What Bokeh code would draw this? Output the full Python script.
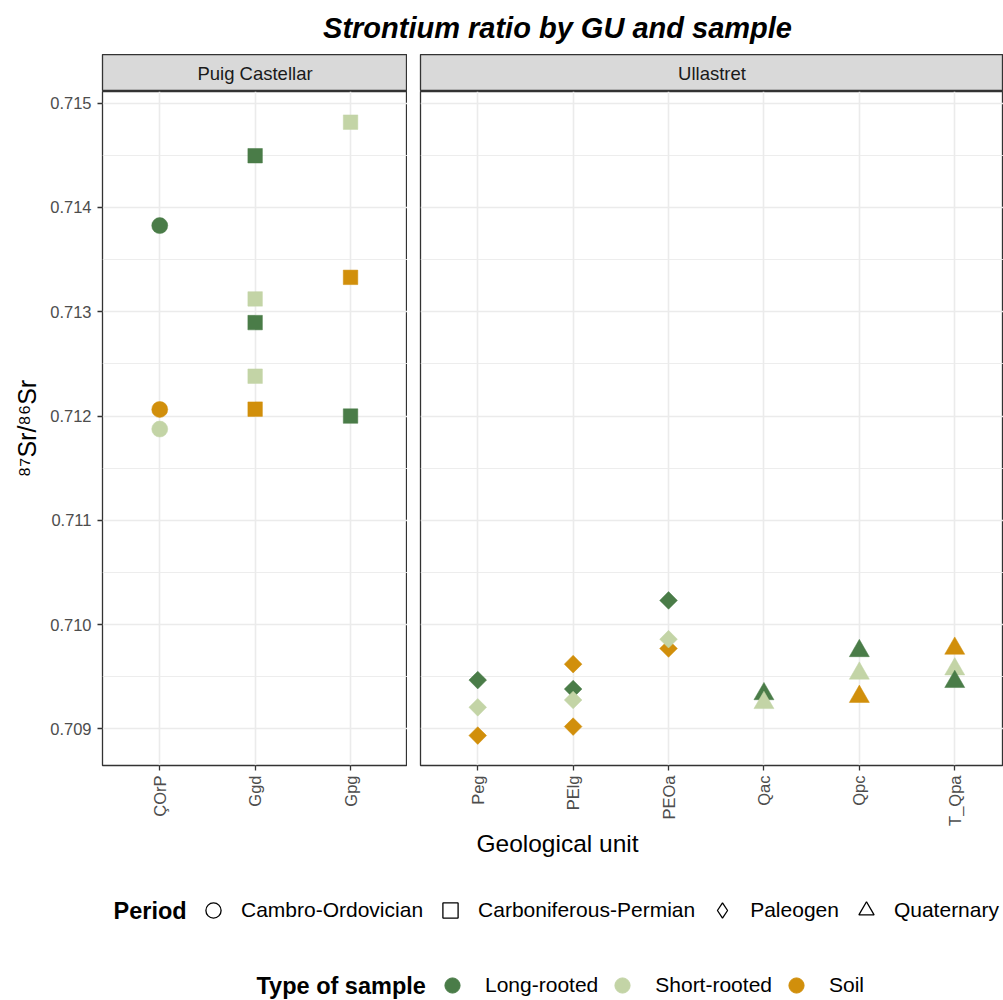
import math
from bokeh.plotting import figure
from bokeh.layouts import column, row
from bokeh.models import (Range1d, FixedTicker, PrintfTickFormatter, Label, Legend,
                          LegendItem, ColumnDataSource, CDSView, GroupFilter)
from bokeh.transform import factor_cmap
from bokeh.embed import file_html
from bokeh.resources import INLINE

# ---------------- data ----------------
sites = ["Puig Castellar", "Ullastret"]
gu_puig = ["ÇOrP", "Ggd", "Gpg"]
gu_ull = ["Peg", "PElg", "PEOa", "Qac", "Qpc", "T_Qpa"]
periods = ["Cambro-Ordovician", "Carboniferous-Permian", "Paleogen", "Quaternary"]
sample_types = ["Long-rooted", "Short-rooted", "Soil"]
y_ticks = [0.709, 0.710, 0.711, 0.712, 0.713, 0.714, 0.715]
y_minor = [0.7085, 0.7095, 0.7105, 0.7115, 0.7125, 0.7135, 0.7145, 0.7155]

puig_gu = ["ÇOrP", "ÇOrP", "ÇOrP",
           "Ggd", "Ggd", "Ggd", "Ggd", "Ggd",
           "Gpg", "Gpg", "Gpg"]
puig_type = ["Long-rooted", "Soil", "Short-rooted",
             "Long-rooted", "Short-rooted", "Long-rooted", "Short-rooted", "Soil",
             "Short-rooted", "Soil", "Long-rooted"]
puig_period = ["Cambro-Ordovician"] * 3 + ["Carboniferous-Permian"] * 8
puig_sr = [0.713826, 0.712063, 0.711875,
           0.714496, 0.713123, 0.712896, 0.712382, 0.712066,
           0.714818, 0.713330, 0.712000]

ull_gu = ["Peg", "Peg", "Peg",
          "PElg", "PElg", "PElg", "PElg",
          "PEOa", "PEOa", "PEOa",
          "Qac", "Qac",
          "Qpc", "Qpc", "Qpc",
          "T_Qpa", "T_Qpa", "T_Qpa"]
ull_type = ["Long-rooted", "Short-rooted", "Soil",
            "Soil", "Long-rooted", "Short-rooted", "Soil",
            "Long-rooted", "Soil", "Short-rooted",
            "Long-rooted", "Short-rooted",
            "Long-rooted", "Short-rooted", "Soil",
            "Soil", "Short-rooted", "Long-rooted"]
ull_period = ["Paleogen"] * 10 + ["Quaternary"] * 8
ull_sr = [0.709468, 0.709207, 0.708936,
          0.709621, 0.709382, 0.709277, 0.709022,
          0.710232, 0.709771, 0.709860,
          0.709335, 0.709250,
          0.709748, 0.709532, 0.709309,
          0.709771, 0.709573, 0.709452]

# ---------------- styles ----------------
FONT = "Liberation Sans"
type_colors = ["#4A7C48", "#C3D4A6", "#D18F0B"]
marker_style = {
    "Cambro-Ordovician": ("circle", 16, 0.0),
    "Carboniferous-Permian": ("square", 14.5, 0.0),
    "Paleogen": ("square", 12.5, math.pi / 4),
    "Quaternary": ("triangle", 20, 0.0),
}
legend_marker = {
    "Cambro-Ordovician": "circle",
    "Carboniferous-Permian": "square",
    "Paleogen": "diamond",
    "Quaternary": "triangle",
}
W = 1003
HDR_H, STRIP_H, PANEL_H, BOT_H = 54, 37, 737, 172
LEFT_W, RIGHT_W = 407, 596
LEFT_B, GAP = 102, 13
PX_PER_CAT = 95.4
GLYPH_BOX = 38

y_range = Range1d(0.708649, 0.715112)


def blank(width, height, xr, yr, **kw):
    f = figure(width=width, height=height, x_range=xr, y_range=yr,
               x_axis_location=None, y_axis_location=None,
               toolbar_location=None, output_backend="svg",
               min_border_left=0, min_border_right=0, min_border_top=0,
               min_border_bottom=0, **kw)
    f.grid.visible = False
    f.outline_line_color = None
    return f


# ---------------- header ----------------
hdr = blank(W, HDR_H, Range1d(0, W), Range1d(HDR_H, 0))
hdr.add_layout(Label(x=557, y=27, text="Strontium ratio by GU and sample",
                     text_align="center", text_baseline="middle",
                     text_font=FONT, text_font_style="bold italic",
                     text_font_size="29px", text_color="black"))


# ---------------- strips ----------------
def strip(width, left, text):
    s = figure(width=width, height=STRIP_H, x_range=Range1d(0, 1), y_range=Range1d(0, 1),
               x_axis_location=None, y_axis_location=None,
               toolbar_location=None, output_backend="svg",
               min_border_left=left, min_border_right=0, min_border_top=0,
               min_border_bottom=0, background_fill_color="#D9D9D9")
    s.grid.visible = False
    s.outline_line_color = "#333333"
    s.outline_line_width = 1.3
    s.add_layout(Label(x=0.5, y=0.5, text=text, text_align="center",
                       text_baseline="middle", text_font=FONT,
                       text_font_size="18.5px", text_color="#1A1A1A"))
    return s


ls = strip(LEFT_W, LEFT_B, sites[0])
rs = strip(RIGHT_W, GAP, sites[1])


# ---------------- panels ----------------
def panel(width, left, cats, gus, types, pers, srs, show_y):
    x_end = -0.6 + (width - left) / PX_PER_CAT
    fig = figure(width=width, height=PANEL_H,
                 x_range=Range1d(-0.6, x_end), y_range=y_range,
                 y_axis_location="left" if show_y else None,
                 toolbar_location=None, output_backend="svg",
                 min_border_left=left, min_border_right=0, min_border_top=0,
                 min_border_bottom=PANEL_H - 675,
                 background_fill_color="white")
    fig.outline_line_color = "#333333"
    fig.outline_line_width = 1.3

    xt = FixedTicker(ticks=list(range(len(cats))))
    yt = FixedTicker(ticks=y_ticks, minor_ticks=y_minor)

    xa = fig.xaxis[0]
    xa.ticker = xt
    xa.major_label_overrides = {i: c for i, c in enumerate(cats)}
    xa.major_label_orientation = math.pi / 2
    xa.axis_line_color = None
    xa.major_tick_line_color = "#333333"
    xa.major_tick_line_width = 1.3
    xa.major_tick_out = 5
    xa.major_tick_in = 0
    xa.minor_tick_line_color = None
    xa.major_label_standoff = 5
    xa.major_label_text_font = FONT
    xa.major_label_text_font_size = "16.5px"
    xa.major_label_text_color = "#4D4D4D"

    if show_y:
        ya = fig.yaxis[0]
        ya.ticker = yt
        ya.formatter = PrintfTickFormatter(format="%.3f")
        ya.axis_line_color = None
        ya.major_tick_line_color = "#333333"
        ya.major_tick_line_width = 1.3
        ya.major_tick_out = 5
        ya.major_tick_in = 0
        ya.minor_tick_line_color = None
        ya.major_label_standoff = 6
        ya.major_label_text_font = FONT
        ya.major_label_text_font_size = "16.5px"
        ya.major_label_text_color = "#4D4D4D"
        ya.axis_label = "⁸⁷Sr/⁸⁶Sr"
        ya.axis_label_text_font = FONT
        ya.axis_label_text_font_style = "normal"
        ya.axis_label_text_font_size = "25px"
        ya.axis_label_text_color = "black"
        ya.axis_label_standoff = 6

    fig.xgrid.ticker = xt
    fig.ygrid.ticker = yt
    fig.xgrid.grid_line_color = "#EBEBEB"
    fig.xgrid.grid_line_width = 1.6
    fig.ygrid.grid_line_color = "#EBEBEB"
    fig.ygrid.grid_line_width = 1.6
    fig.ygrid.minor_grid_line_color = "#EBEBEB"
    fig.ygrid.minor_grid_line_width = 0.9

    src = ColumnDataSource(dict(x=[cats.index(g) for g in gus], y=srs,
                                type=types, period=pers, gu=gus))
    cmap = factor_cmap("type", palette=type_colors, factors=sample_types)
    for per in periods:
        if per not in pers:
            continue
        mk, sz, ang = marker_style[per]
        fig.scatter("x", "y", source=src,
                    view=CDSView(filter=GroupFilter(column_name="period", group=per)),
                    marker=mk, size=sz, angle=ang,
                    fill_color=cmap, line_color=cmap, line_width=0.5)
    return fig


lp = panel(LEFT_W, LEFT_B, gu_puig, puig_gu, puig_type, puig_period, puig_sr, True)
rp = panel(RIGHT_W, GAP, gu_ull, ull_gu, ull_type, ull_period, ull_sr, False)

# ---------------- bottom: axis title + legends ----------------
bot = blank(W, BOT_H, Range1d(0, W), Range1d(BOT_H, 0))
bot.add_layout(Label(x=557, y=15, text="Geological unit", text_align="center",
                     text_baseline="middle", text_font=FONT,
                     text_font_size="24.5px", text_color="black"))
bot.add_layout(Label(x=113, y=82, text="Period", text_align="left",
                     text_baseline="middle", text_font=FONT, text_font_style="bold",
                     text_font_size="23.5px", text_color="black"))
bot.add_layout(Label(x=256, y=157, text="Type of sample", text_align="left",
                     text_baseline="middle", text_font=FONT, text_font_style="bold",
                     text_font_size="23.5px", text_color="black"))

NAN = float("nan")
per_items = []
for per in periods:
    r = bot.scatter(x=[NAN], y=[NAN], marker=legend_marker[per], size=15,
                    fill_color=None, line_color="black", line_width=1.3)
    per_items.append(LegendItem(label=per, renderers=[r]))

type_items = []
for t, c in zip(sample_types, type_colors):
    r = bot.scatter(x=[NAN], y=[NAN], marker="circle", size=15,
                    fill_color=c, line_color=c)
    type_items.append(LegendItem(label=t, renderers=[r]))


def make_legend(items, loc, standoff, spacing):
    lg = Legend(items=items, orientation="horizontal", location=loc,
                padding=0, margin=0, spacing=spacing, label_standoff=standoff,
                glyph_width=GLYPH_BOX, glyph_height=GLYPH_BOX, label_height=22,
                label_text_font=FONT, label_text_font_size="21px",
                label_text_color="black", label_text_baseline="middle",
                border_line_color=None, background_fill_alpha=0)
    return lg


bot.add_layout(make_legend(per_items, (194, 71), 9, 8), "center")
bot.add_layout(make_legend(type_items, (433, -4), 14, 5), "center")

layout = column(hdr, row(ls, rs), row(lp, rp), bot)
open("out.html", "w").write(file_html(layout, INLINE))
